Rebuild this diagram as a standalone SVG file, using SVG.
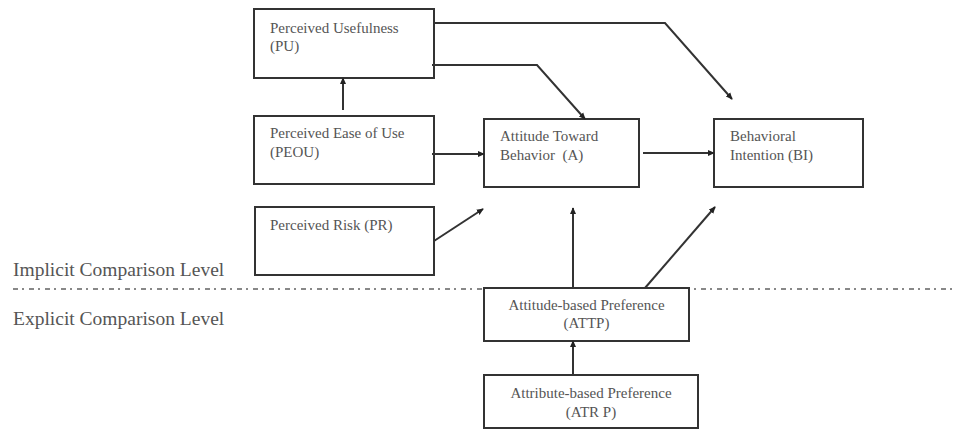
<svg xmlns="http://www.w3.org/2000/svg" width="953" height="430" viewBox="0 0 953 430">
<defs>
<marker id="ah" viewBox="0 0 8 8" refX="7" refY="4" markerWidth="7" markerHeight="7" markerUnits="userSpaceOnUse" orient="auto">
<path d="M0,0.5 L8,4 L0,7.5 z" fill="#222"/>
</marker>
<style>
.box{fill:#fff;stroke:#333;stroke-width:2}
.t{font-family:"Liberation Serif","Times New Roman",serif;font-size:15px;fill:#555}
.c{text-anchor:middle}
.lvl{font-family:"Liberation Serif","Times New Roman",serif;font-size:19.5px;fill:#555}
.cn{fill:none;stroke:#333;stroke-width:2;marker-end:url(#ah)}
.sep{fill:none;stroke:#888;stroke-width:2;stroke-dasharray:5 4 2 5}
</style>
</defs>
<rect width="953" height="430" fill="#fff"/>
<line class="sep" x1="13" y1="289" x2="953" y2="289"/>
<text class="lvl" x="13" y="276">Implicit Comparison Level</text>
<text class="lvl" x="13" y="325">Explicit Comparison Level</text>
<g id="PU"><rect class="box" x="254" y="9" width="180" height="69"/><text class="t" x="270" y="33">Perceived Usefulness</text><text class="t" x="270" y="51">(PU)</text></g>
<g id="PEOU"><rect class="box" x="254" y="116" width="180" height="68"/><text class="t" x="270" y="138">Perceived Ease of Use</text><text class="t" x="270" y="157">(PEOU)</text></g>
<g id="PR"><rect class="box" x="255" y="207" width="179" height="68"/><text class="t" x="270" y="230">Perceived Risk (PR)</text></g>
<g id="A"><rect class="box" x="484" y="119" width="155" height="68"/><text class="t" x="500" y="141">Attitude Toward</text><text class="t" x="500" y="160">Behavior&#160; (A)</text></g>
<g id="BI"><rect class="box" x="714" y="119" width="149" height="68"/><text class="t" x="730" y="141">Behavioral</text><text class="t" x="730" y="160">Intention (BI)</text></g>
<g id="ATTP"><rect class="box" x="484" y="288" width="205" height="53"/><text class="t c" x="586.5" y="310">Attitude-based Preference</text><text class="t c" x="586.5" y="328">(ATTP)</text></g>
<g id="ATRP"><rect class="box" x="484" y="375" width="214" height="53"/><text class="t c" x="591" y="398">Attribute-based Preference</text><text class="t c" x="591" y="417">(ATR P)</text></g>
<g id="connectors">
<path class="cn" d="M343,110 L343,78"/>
<path class="cn" d="M432,154 L484,154"/>
<path class="cn" d="M643,153 L714,153"/>
<path class="cn" d="M432,65 L537,65 L585,119"/>
<path class="cn" d="M434,23 L665,23 L732,99"/>
<path class="cn" d="M434,241 L483,209"/>
<path class="cn" d="M573,288 L573,208"/>
<path class="cn" d="M645,288 L715,207"/>
<path class="cn" d="M573,376 L573,341"/>
</g>
</svg>
